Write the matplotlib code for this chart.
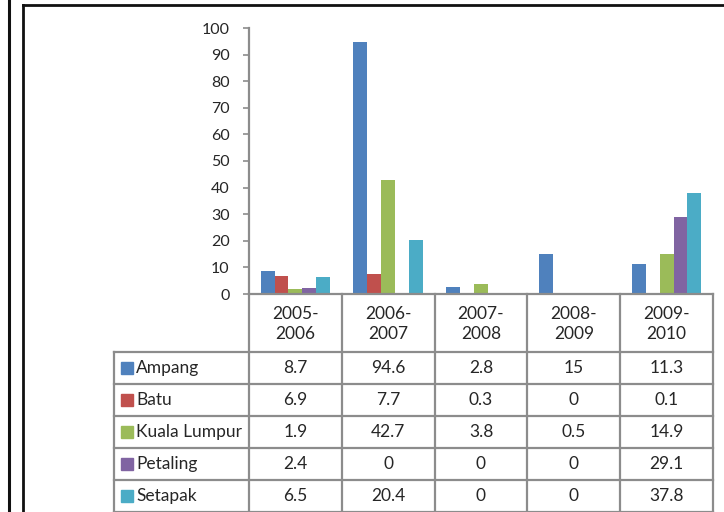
import numpy as np
import matplotlib
matplotlib.use('Agg')
import matplotlib.pyplot as plt
from matplotlib.patches import Rectangle

periods = ['2005-\n2006', '2006-\n2007', '2007-\n2008', '2008-\n2009', '2009-\n2010']
areas = ['Ampang', 'Batu', 'Kuala Lumpur', 'Petaling', 'Setapak']
ampang = [8.7, 94.6, 2.8, 15, 11.3]
batu = [6.9, 7.7, 0.3, 0, 0.1]
kuala_lumpur = [1.9, 42.7, 3.8, 0.5, 14.9]
petaling = [2.4, 0, 0, 0, 29.1]
setapak = [6.5, 20.4, 0, 0, 37.8]
series = [ampang, batu, kuala_lumpur, petaling, setapak]
colors = ['#4F81BD', '#C0504D', '#9BBB59', '#8064A2', '#4BACC6']
y_ticks = list(range(0, 101, 10))

W, H = 724, 512
FONT = 'Lato'
GRID = '#8c8c8c'
TXT = '#262626'

fig = plt.figure(figsize=(W / 100, H / 100), dpi=100)

# overlay in pixel coords for frame + table
ov = fig.add_axes([0, 0, 1, 1])
ov.set_xlim(0, W)
ov.set_ylim(H, 0)
ov.axis('off')

# page frames
ov.plot([9, 9], [0, H], color='#111111', lw=2.2)
ov.plot([23, 23], [5, H], color='#111111', lw=2.0)
ov.plot([23, W], [5, 5], color='#111111', lw=2.0)

# chart area
x_left, x_right = 249, 713
y_top, y_zero = 28, 294
ax = fig.add_axes([x_left / W, 1 - y_zero / H, (x_right - x_left) / W, (y_zero - y_top) / H])
n = len(periods)
bw = 0.15
x = np.arange(n) + 0.5
for i, (vals, c) in enumerate(zip(series, colors)):
    ax.bar(x + (i - 2) * bw, vals, bw, color=c, edgecolor='none', zorder=2)
ax.set_xlim(0, n)
ax.set_ylim(0, 100)
ax.set_yticks(y_ticks)
ax.set_xticks([])
for s in ['top', 'right']:
    ax.spines[s].set_visible(False)
for s in ['left', 'bottom']:
    ax.spines[s].set_color(GRID)
    ax.spines[s].set_linewidth(1.6)
ax.tick_params(axis='y', direction='out', length=4, width=1.2, color=GRID,
               pad=10, labelsize=11.5, labelcolor=TXT)
for lab in ax.get_yticklabels():
    lab.set_fontfamily(FONT)
ax.patch.set_alpha(0)

# data table
col_edges = np.linspace(x_left, x_right, n + 1)
label_left = 114
head_top, head_bot = y_zero, 352
row_h = 32
row_edges = [head_bot + k * row_h for k in range(len(areas) + 1)]

for xe in col_edges:
    ov.plot([xe, xe], [head_top, H], color=GRID, lw=1.6)
ov.plot([label_left, label_left], [head_bot, H], color=GRID, lw=1.6)
for ye in row_edges:
    ov.plot([label_left, x_right], [ye, ye], color=GRID, lw=1.6)

for j, p in enumerate(periods):
    cx = (col_edges[j] + col_edges[j + 1]) / 2
    ov.text(cx, (head_top + head_bot) / 2 + 1, p, ha='center', va='center',
            fontsize=12.5, family=FONT, color=TXT, linespacing=1.35)

for i, (name, vals, c) in enumerate(zip(areas, series, colors)):
    cy = (row_edges[i] + row_edges[i + 1]) / 2
    ov.add_patch(Rectangle((121, cy - 6), 12, 12, color=c))
    ov.text(136, cy, name, ha='left', va='center', fontsize=12.5, family=FONT, color=TXT)
    for j, v in enumerate(vals):
        cx = (col_edges[j] + col_edges[j + 1]) / 2
        ov.text(cx, cy, f'{v:g}', ha='center', va='center', fontsize=12.5,
                family=FONT, color=TXT)

fig.savefig('out.png', dpi=100)
